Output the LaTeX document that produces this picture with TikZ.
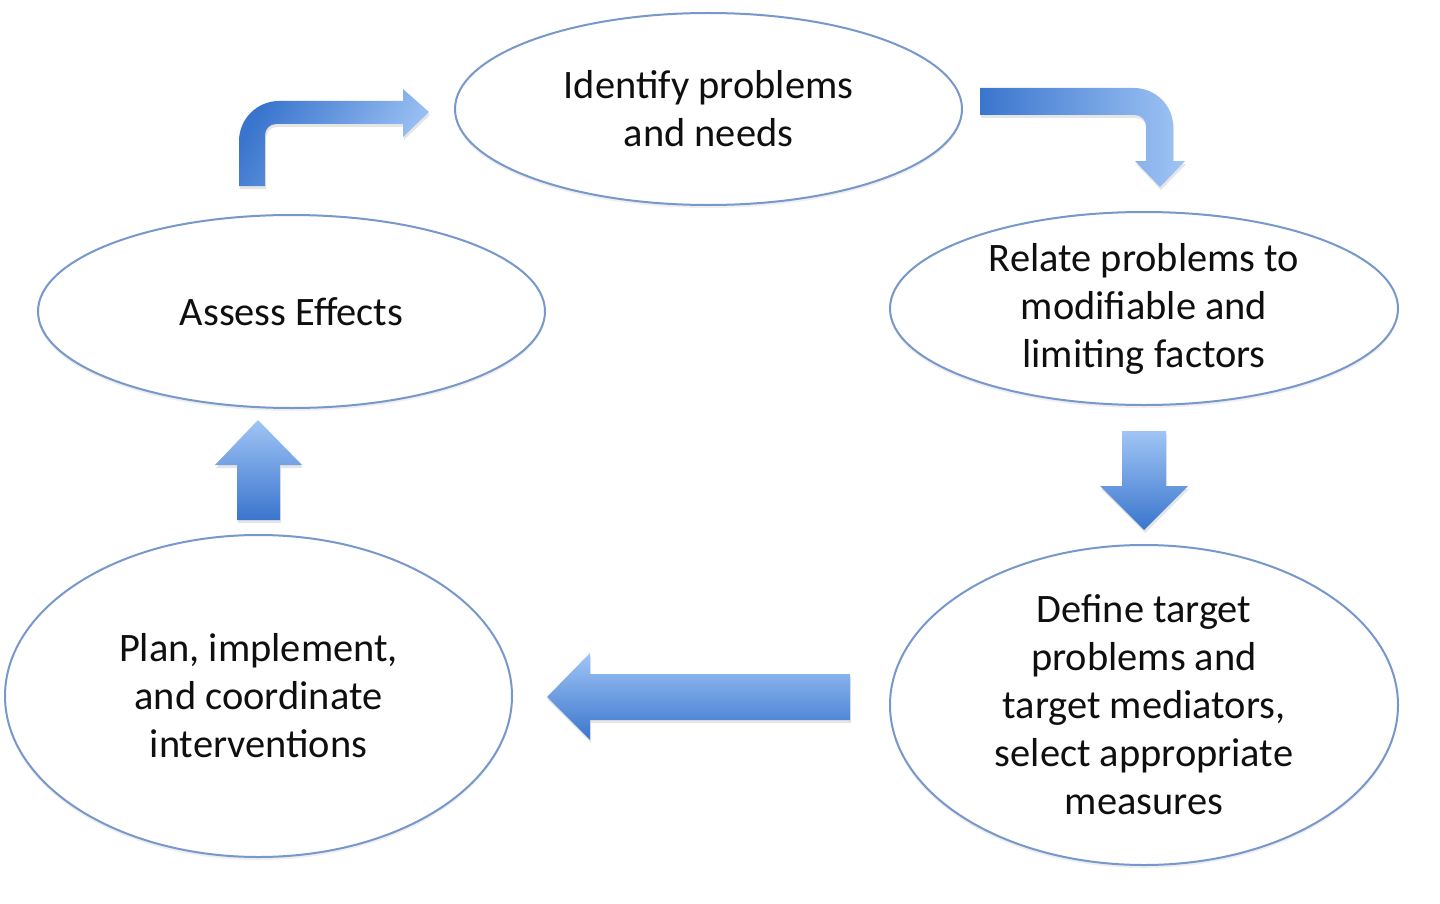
\documentclass[tikz,border=0pt]{standalone}
\usepackage{fontspec}
\setmainfont{Carlito}
\usetikzlibrary{shapes.geometric,shadows}
\definecolor{arrdark}{RGB}{58,117,205}
\definecolor{arrlight}{RGB}{160,197,245}
\definecolor{ellline}{RGB}{118,152,202}
\definecolor{txt}{RGB}{15,15,15}
\tikzset{
  bubble/.style={ellipse, draw=ellline, line width=1pt, fill=white, inner sep=0pt,
    align=center, text=txt, font=\fontsize{20.2pt}{24pt}\selectfont,
    drop shadow={opacity=0.12, shadow xshift=0pt, shadow yshift=-1.5pt}},
  blockarrow/.style={draw=none,
    drop shadow={opacity=0.2, shadow xshift=0.5pt, shadow yshift=-1.5pt}},
  vshade/.style={top color=arrlight, bottom color=arrdark},
  hshade/.style={left color=arrdark, right color=arrlight}
}
\begin{document}
\begin{tikzpicture}[x=0.5pt,y=-0.5pt]
\useasboundingbox[fill=white] (0,0) rectangle (1440,904);

\node[bubble, minimum width=253.5pt, minimum height=96pt] (identify) at (708.5,109) {Identify problems\\and needs};
\node[bubble, minimum width=254pt, minimum height=96.5pt] (relate) at (1144,308.5) {Relate problems to\\modifiable and\\limiting factors};
\node[bubble, minimum width=254pt, minimum height=160pt] (define) at (1144,705) {Define target\\problems and\\target mediators,\\select appropriate\\measures};
\node[bubble, minimum width=253.5pt, minimum height=161pt] (plan) at (258.5,696) {Plan, implement,\\and coordinate\\interventions};
\node[bubble, minimum width=253.5pt, minimum height=96.5pt] (assess) at (291.5,311.5) {Assess Effects};

% bent arrow: assess -> identify
\path[blockarrow, left color=arrdark, right color=arrlight, shading angle=60]
  (239,186) -- (239,141) .. controls (239,119) and (257,101) .. (279,101)
  -- (403,101) -- (403,89) -- (429,112) -- (403,137) -- (403,124)
  -- (276,124) .. controls (270,124) and (265,129) .. (265,135) -- (265,186) -- cycle;

% bent arrow: identify -> relate
\path[blockarrow, hshade]
  (980,88) -- (1134,88) .. controls (1155,88) and (1173,105) .. (1173,126)
  -- (1173,161) -- (1185,161) -- (1160,187) -- (1135,161) -- (1146,161)
  -- (1146,126) .. controls (1146,120) and (1141,115) .. (1135,115) -- (980,115) -- cycle;

% down arrow: relate -> define
\path[blockarrow, vshade]
  (1122,431) -- (1166,431) -- (1166,486) -- (1188,486) -- (1144,530)
  -- (1100,486) -- (1122,486) -- cycle;

% left arrow: define -> plan
\path[blockarrow, vshade]
  (850,674) -- (590,674) -- (590,653) -- (547,697) -- (590,740)
  -- (590,720) -- (850,720) -- cycle;

% up arrow: plan -> assess
\path[blockarrow, vshade]
  (237,520) -- (237,465) -- (215,465) -- (258,420) -- (302,465)
  -- (280,465) -- (280,520) -- cycle;
\end{tikzpicture}
\end{document}
